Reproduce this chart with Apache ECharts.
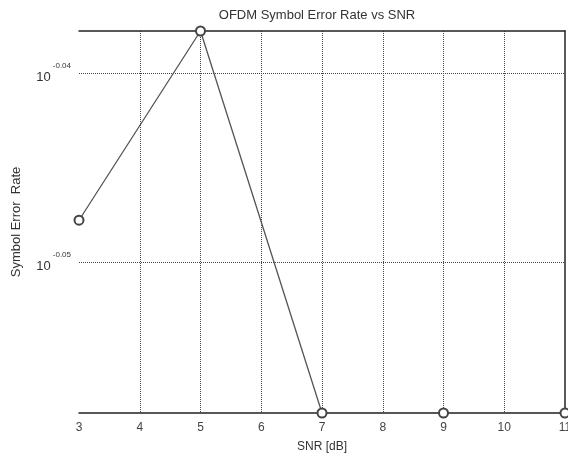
<!DOCTYPE html>
<html><head><meta charset="utf-8">
<script src="https://cdn.jsdelivr.net/npm/echarts@6/dist/echarts.min.js"></script>
<style>html,body{margin:0;padding:0;background:#fff}#c{width:568px;height:460px}</style>
</head><body><div id="c"></div>
<script>
const snrDb = [3, 5, 7, 9, 11];
const symbolErrorRate = [0.8958, 0.9167, 0.875, 0.875, 0.875];
const yTickExponents = [-0.05, -0.04];
const yMinValue = 0.875;
const yMaxValue = 0.9167;

const FONT = '"Liberation Sans", Arial, sans-serif';
const chart = echarts.init(document.getElementById('c'));
const lg = v => Math.log10(v);
const seriesData = snrDb.map((x, i) => [x, lg(symbolErrorRate[i])]);
const yMin = lg(yMinValue), yMax = lg(yMaxValue);
const gridStyle = {color: '#444', width: 1, type: [1, 1]};

chart.setOption({
  animation: false,
  backgroundColor: '#fff',
  title: {
    text: 'OFDM Symbol Error Rate vs SNR',
    left: 312, top: 4, textAlign: 'center',
    textStyle: {fontFamily: FONT, fontSize: 13, fontWeight: 'normal', color: '#333'}
  },
  grid: {left: 79, right: 3, top: 31, bottom: 47, containLabel: false, outerBoundsMode: 'none'},
  xAxis: [{
    type: 'value', min: 3, max: 11, interval: 1, position: 'bottom',
    name: 'SNR [dB]', nameLocation: 'middle', nameGap: 28,
    nameTextStyle: {fontFamily: FONT, fontSize: 12, color: '#333'},
    axisLine: {show: true, lineStyle: {color: '#222', width: 1.5}},
    axisTick: {show: false},
    axisLabel: {fontFamily: FONT, fontSize: 12, color: '#444', margin: 9},
    splitLine: {show: true, showMinLine: false, showMaxLine: false, lineStyle: gridStyle}
  }, {
    type: 'value', min: 3, max: 11, interval: 1, position: 'top',
    axisLine: {show: true, onZero: false, lineStyle: {color: '#222', width: 1.5}},
    axisTick: {show: false}, axisLabel: {show: false}, splitLine: {show: false}
  }],
  yAxis: [{
    type: 'value', min: yMin, max: yMax, position: 'left',
    name: 'Symbol Error  Rate', nameLocation: 'middle', nameGap: 56, nameRotate: 90,
    nameTextStyle: {fontFamily: FONT, fontSize: 13, color: '#333'},
    axisLine: {show: false},
    axisTick: {show: false, customValues: yTickExponents},
    axisLabel: {
      customValues: yTickExponents, margin: 8,
      formatter: v => '{b|10}{s|' + v.toFixed(2) + '}',
      rich: {
        b: {fontFamily: FONT, fontSize: 13, color: '#333', verticalAlign: 'bottom'},
        s: {fontFamily: FONT, fontSize: 8, color: '#333', padding: [0, 0, 14, 2]}
      }
    },
    splitLine: {show: false}
  }, {
    type: 'value', min: yMin, max: yMax, position: 'right',
    axisLine: {show: true, onZero: false, lineStyle: {color: '#222', width: 1.5}},
    axisTick: {show: false}, axisLabel: {show: false}, splitLine: {show: false}
  }],
  series: [{
    type: 'line', xAxisIndex: 0, yAxisIndex: 0,
    data: seriesData, clip: false, z: 3,
    symbol: 'emptyCircle', symbolSize: 9,
    lineStyle: {color: '#555', width: 1.3},
    itemStyle: {color: '#444', borderColor: '#444', borderWidth: 1.3},
    markLine: {
      silent: true, symbol: 'none', animation: false, z: 1,
      label: {show: false},
      lineStyle: gridStyle,
      data: yTickExponents.map(v => ({yAxis: v}))
    }
  }]
});
</script></body></html>
